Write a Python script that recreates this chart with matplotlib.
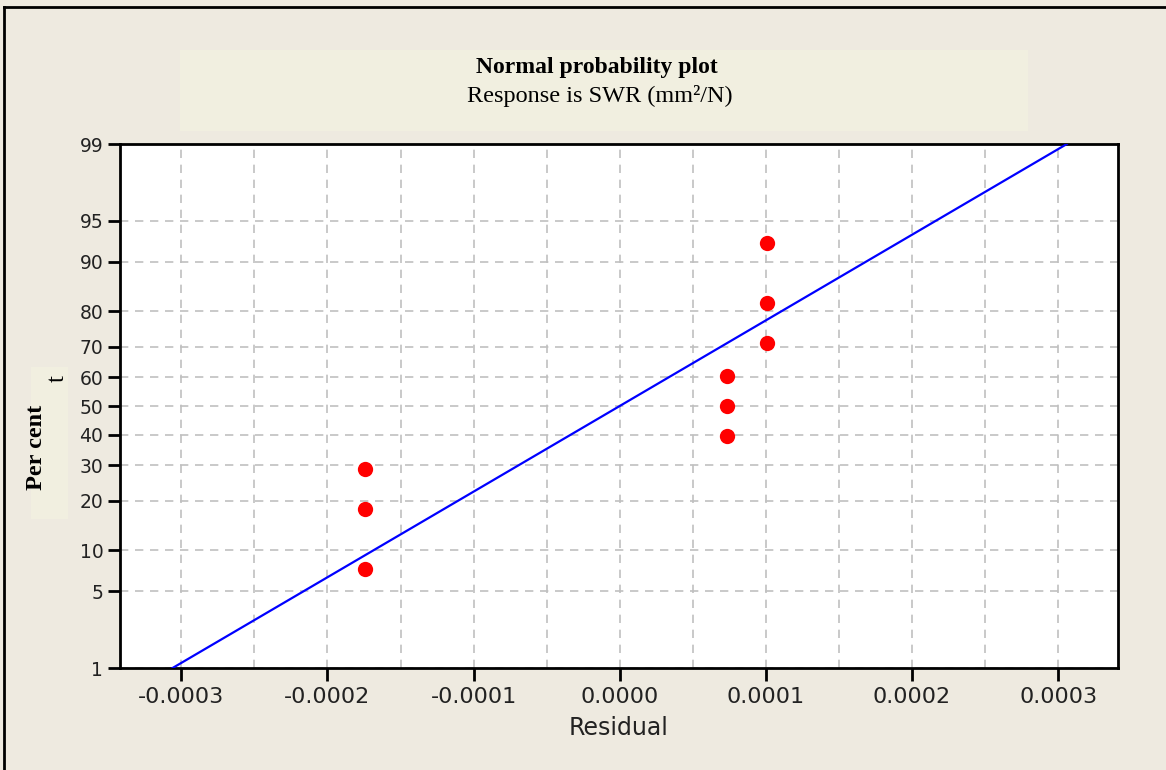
from statistics import NormalDist
import numpy as np
import matplotlib.pyplot as plt
from matplotlib.patches import Rectangle
from matplotlib.lines import Line2D

# residuals (sorted) and their plotting percents
residuals = [-0.000174, -0.000174, -0.000174,
             0.0000733, 0.0000733, 0.0000733,
             0.0001007, 0.0001007, 0.0001007]
percents = [7.4, 18.1, 28.7, 39.4, 50.0, 60.6, 71.3, 81.9, 92.6]

# fitted normal reference line: residual at 1 % and 99 %
line_percents = [1, 99]
line_residuals = [-0.000306, 0.000306]

ytick_percents = [1, 5, 10, 20, 30, 40, 50, 60, 70, 80, 90, 95, 99]
xticks = [-0.0003, -0.0002, -0.0001, 0.0, 0.0001, 0.0002, 0.0003]

nd = NormalDist()


def prob(p):
    """Percent -> position on normal probability scale."""
    return np.array([nd.inv_cdf(v / 100.0) for v in np.atleast_1d(p)])


BG = '#EEEAE0'
BOX = '#F1EFE0'

fig = plt.figure(figsize=(11.66, 7.70), dpi=100, facecolor=BG)

# outer frame (top and left edges)
fig.add_artist(Line2D([4 / 1166, 4 / 1166], [0, 1 - 7 / 770], transform=fig.transFigure,
                      color='black', lw=2))
fig.add_artist(Line2D([4 / 1166, 1], [1 - 7 / 770, 1 - 7 / 770], transform=fig.transFigure,
                      color='black', lw=2))

# title box
fig.add_artist(Rectangle((180 / 1166, 1 - 131 / 770), 848 / 1166, 81 / 770,
                         transform=fig.transFigure, facecolor=BOX, edgecolor='none'))
fig.text(597 / 1166, 1 - 68 / 770, 'Normal probability plot', ha='center', va='center',
         family='Liberation Serif', weight='bold', fontsize=17)
fig.text(600 / 1166, 1 - 96 / 770, 'Response is SWR (mm²/N)', ha='center', va='center',
         family='Liberation Serif', fontsize=17.5)

# y label box
fig.add_artist(Rectangle((31 / 1166, 1 - 519 / 770), 37 / 1166, 152 / 770,
                         transform=fig.transFigure, facecolor=BOX, edgecolor='none'))
fig.text(36 / 1166, 1 - 447 / 770, 'Per cent', ha='center', va='center', rotation=90,
         family='Liberation Serif', weight='bold', fontsize=17.5)
fig.text(58 / 1166, 1 - 379 / 770, 't', ha='center', va='center', rotation=90,
         family='Liberation Serif', fontsize=18)

ax = fig.add_axes([120 / 1166, 1 - 668 / 770, 998 / 1166, 524 / 770])
ax.set_facecolor('white')

ax.plot(line_residuals, prob(line_percents), color='#0000FF', lw=1.6, zorder=3)
ax.plot(residuals, prob(percents), 'o', color='#FF0000', ms=11, mec='none', zorder=4)

ax.set_xlim(-0.000342, 0.000341)
ax.set_ylim(prob(1)[0], prob(99)[0])

ax.set_yticks(prob(ytick_percents))
ax.set_yticklabels([str(p) for p in ytick_percents])
ax.set_xticks(xticks)
ax.set_xticklabels(['%.4f' % v for v in xticks])
ax.set_xticks(np.arange(-0.00025, 0.00030, 0.0001), minor=True)

ax.grid(True, which='both', axis='x', color='#C0C0C0', ls=(0, (5, 4)), lw=1.2)
ax.grid(True, which='major', axis='y', color='#C0C0C0', ls=(0, (5, 4)), lw=1.2)
ax.tick_params(axis='x', which='minor', length=0)
ax.tick_params(axis='both', which='major', direction='out', length=9, width=2,
               colors='black', labelcolor='#222222')
ax.tick_params(axis='x', labelsize=16, pad=5)
ax.tick_params(axis='y', labelsize=13.5, pad=3)

for s in ax.spines.values():
    s.set_linewidth(2)

ax.set_xlabel('Residual', fontsize=17, color='#222222', labelpad=6)

fig.savefig('out.png', dpi=100, facecolor=BG)
